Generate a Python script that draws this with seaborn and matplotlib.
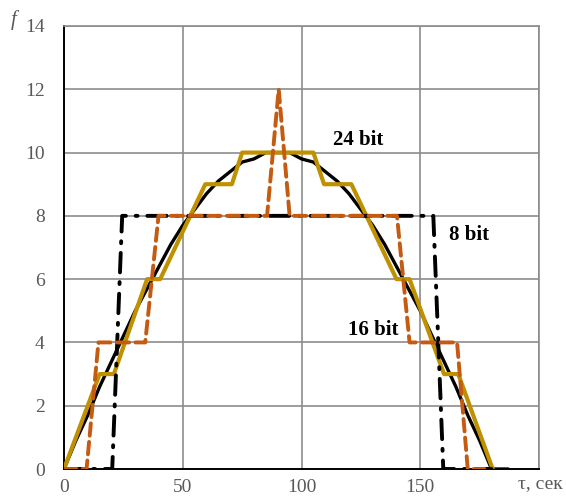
import matplotlib
matplotlib.use("Agg")
import matplotlib.pyplot as plt
import seaborn as sns

# reference (analog) curve, read every 5 s
tau_ref = [0, 5, 10, 15, 20, 25, 30, 35, 40, 45, 50, 55, 60, 65, 70, 75, 80, 85, 90,
           95, 100, 105, 110, 115, 120, 125, 130, 135, 140, 145, 150, 155, 160, 165, 170, 175, 180, 187]
f_ref = [0, 0.9, 1.7, 2.6, 3.4, 4.2, 5.0, 5.7, 6.4, 7.1, 7.7, 8.2, 8.7, 9.1, 9.4, 9.7, 9.8, 10.0, 10.0,
         10.0, 9.8, 9.7, 9.4, 9.1, 8.7, 8.2, 7.7, 7.1, 6.4, 5.7, 5.0, 4.2, 3.4, 2.6, 1.7, 0.9, 0, 0]

# 24 bit
tau_24 = [0, 15, 21, 35, 40.5, 59.5, 70.7, 75, 105, 109.5, 121, 140, 145.5, 160, 166, 180.5]
f_24 = [0, 3, 3, 6, 6, 9, 9, 10, 10, 9, 9, 6, 6, 3, 3, 0]

# 16 bit
tau_16 = [0, 9.5, 14.5, 34.2, 39.8, 85.5, 90.4, 95, 140.2, 145.5, 165.5, 170, 177]
f_16 = [0, 0, 4, 4, 8, 8, 12, 8, 8, 4, 4, 0, 0]

# 8 bit
tau_8 = [0, 20.3, 24.5, 155.5, 159.7, 180]
f_8 = [0, 0, 8, 8, 0, 0]

labels = [("24 bit", 124, 10.4), ("8 bit", 170.5, 7.4), ("16 bit", 130, 4.4)]

GOLD = "#BF9000"
ORANGE = "#C55A11"
GRID = "#8C8C8C"
TXT = "#595959"

sns.set_style("white")
plt.rcParams["font.family"] = ["Liberation Serif", "DejaVu Serif"]

fig = plt.figure(figsize=(5.66, 4.99), dpi=100)
ax = fig.add_axes([64 / 566, 30 / 499, 475 / 566, 443 / 499])

sns.lineplot(x=tau_ref, y=f_ref, ax=ax, color="black", linewidth=2.4,
             sort=False, estimator=None, zorder=3)
sns.lineplot(x=tau_24, y=f_24, ax=ax, color=GOLD, linewidth=3.0,
             sort=False, estimator=None, zorder=4)
sns.lineplot(x=tau_8, y=f_8, ax=ax, color="black", linewidth=2.8,
             linestyle=(0, (5, 2.5, 0.5, 2.5)), dash_capstyle="round",
             sort=False, estimator=None, zorder=5)
sns.lineplot(x=tau_16, y=f_16, ax=ax, color=ORANGE, linewidth=2.8,
             linestyle=(0, (3.2, 1.6)), dash_capstyle="round",
             sort=False, estimator=None, zorder=6)

for txt, x, y in labels:
    ax.text(x, y, txt, fontsize=15, fontweight="bold", color="black",
            ha="center", va="center", zorder=7)

ax.set_xlim(0, 200)
ax.set_ylim(0, 14)
ax.set_xticks([0, 50, 100, 150, 200])
ax.set_xticklabels(["0", "50", "100", "150", ""])
ax.set_yticks(range(0, 15, 2))
ax.tick_params(axis="both", length=0, labelsize=14, labelcolor=TXT)
ax.tick_params(axis="x", pad=7)
ax.tick_params(axis="y", pad=14)

ax.grid(True, color=GRID, linewidth=1.2)
for side in ["top", "right"]:
    ax.spines[side].set_color(GRID)
    ax.spines[side].set_linewidth(1.2)
for side in ["left", "bottom"]:
    ax.spines[side].set_color("black")
    ax.spines[side].set_linewidth(1.4)

fig.text(14 / 566, 1 - 20 / 499, "f", fontsize=15, style="italic", color=TXT,
         ha="center", va="center")
fig.text(540 / 566, 1 - 484 / 499, "τ, сек", fontsize=14, color=TXT,
         ha="center", va="center")

fig.savefig("out.png", dpi=100)
